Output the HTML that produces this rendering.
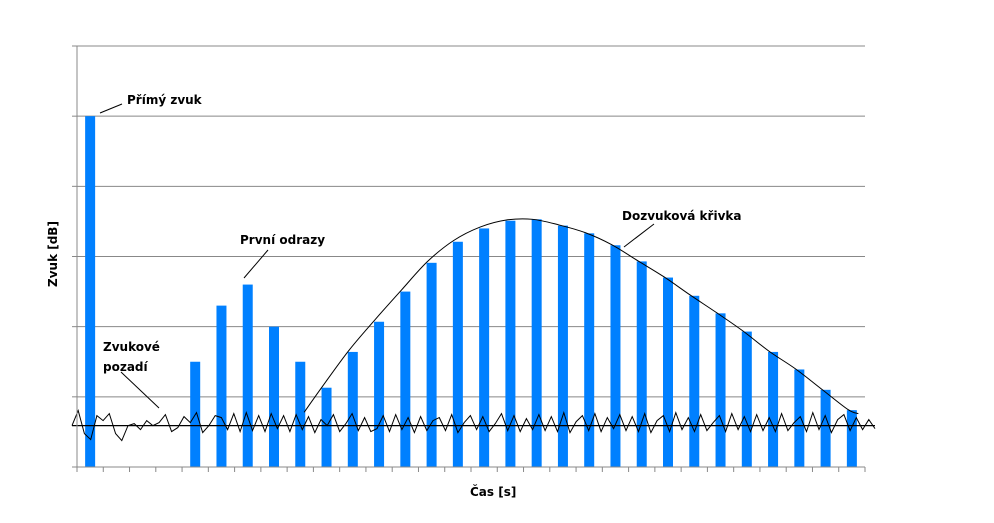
<!DOCTYPE html>
<html><head><meta charset="utf-8"><style>
body{margin:0;background:#fff;}
svg{display:block;}
text{font-family:"DejaVu Sans","Liberation Sans",sans-serif;font-weight:bold;font-size:12px;fill:#000;}
</style></head><body>
<svg id="chart" width="994" height="523">
<g id="grid"></g><g id="bars"></g><g id="lines"></g><g id="axes"></g>
<text x="470" y="496">Čas [s]</text>
<text transform="translate(57,287) rotate(-90)">Zvuk [dB]</text>
<text x="127" y="104">Přímý zvuk</text>
<line x1="100" y1="113" x2="122" y2="104" stroke="#000"/>
<text x="240" y="244">První odrazy</text>
<line x1="244" y1="278" x2="268" y2="250" stroke="#000"/>
<text x="103" y="351">Zvukové</text>
<text x="103" y="371">pozadí</text>
<line x1="121" y1="372" x2="159" y2="408" stroke="#000"/>
<text x="622" y="220">Dozvuková křivka</text>
<line x1="624" y1="247" x2="654" y2="224" stroke="#000"/>
</svg>
<script>
const categories = Array.from({length:30},(_,i)=>i+1);
const barValues = [50,0,0,0,15,23,26,20,15,11.3,16.4,20.7,25,29.1,32.1,34,35.1,35.3,34.4,33.3,31.6,29.3,27,24.4,21.9,19.3,16.4,13.9,11,8.1];
const curveCats = [8.3,9,10,11,12,13,14,15,16,17,18,19,20,21,22,23,24,25,26,27,28,29,29.4];
const curveValues = [7.8,11.5,16.6,21,25.2,29.3,32.3,34.2,35.2,35.3,34.5,33.4,31.7,29.4,27.1,24.5,22,19.4,16.5,14,11.1,8.2,7.6];
const noiseBase = 5.9;
const noiseValues = [0,1.5,-0.8,-1.4,1,0.5,1.2,-0.8,-1.5,0,0.2,-0.4,0.5,0,0.3,1.1,-0.6,-0.2,0.9,0.3,1.3,-0.7,0,1,0.8,-0.4,1.2,-0.6,1.3,-0.5,1,-0.6,1.2,-0.3,1,-0.6,1.1,-0.4,0.9,-0.7,0.6,0,1.1,-0.6,0.2,1.2,-0.5,0.8,-0.6,-0.3,1,-0.6,1.1,-0.4,0.8,-0.7,0.9,-0.5,0.5,0.8,-0.5,1.1,-0.7,0.3,1,-0.4,0.9,-0.6,0.2,1.2,-0.5,1,-0.6,0.7,-0.4,1.1,-0.5,0.9,-0.6,1.3,-0.7,0.4,1,-0.5,1.2,-0.6,0.8,-0.3,1.1,-0.5,0.9,-0.6,1.2,-0.7,0.5,1,-0.6,1.3,-0.4,0.8,-0.6,1.1,-0.5,0.3,1,-0.6,1.2,-0.4,0.9,-0.6,1.1,-0.5,0.8,-0.6,1.2,-0.5,0.3,0.9,-0.6,1.3,-0.4,1,-0.7,0.6,1.1,-0.5,0.8,-0.4,0.6,-0.3];
const yTicks = [0,10,20,30,40,50,60];

const X0=77,X1=865,Y0=467,Y1=46,YMAX=60;
const NS="http://www.w3.org/2000/svg";
const slot=(X1-X0)/categories.length;
const xC=i=>X0+slot*(i+0.5);
const y=v=>Y0-(v/YMAX)*(Y0-Y1);
function mk(tag,attrs,parent){const e=document.createElementNS(NS,tag);for(const k in attrs)e.setAttribute(k,attrs[k]);document.getElementById(parent).appendChild(e);return e;}

yTicks.forEach(t=>{
  if(t>0){const g=mk('line',{x1:X0,x2:X1,y1:y(t),y2:y(t),stroke:'#888'},'grid');
  
  }
  const tk=mk('line',{x1:X0-5,x2:X0,y1:y(t),y2:y(t),stroke:'#888'},'axes');
  
  
});
const ya=mk('line',{x1:X0,x2:X0,y1:Y1,y2:Y0,stroke:'#888'},'axes');


const xa=mk('line',{x1:X0,x2:X1,y1:Y0,y2:Y0,stroke:'#888'},'axes');


for(let i=0;i<=categories.length;i++){
  const tk=mk('line',{x1:X0+slot*i,x2:X0+slot*i,y1:Y0,y2:Y0+5,stroke:'#888'},'axes');
  
  
}
barValues.forEach((v,i)=>{
  if(v<=0)return;
  const b=mk('rect',{x:xC(i)-5,y:y(v),width:10,height:Y0-y(v),fill:'#0080ff'},'bars');
  
  
});
// noise
const nx0=72,nx1=875;
let d='';
noiseValues.forEach((v,i)=>{const px=nx0+(nx1-nx0)*i/(noiseValues.length-1);const py=y(noiseBase)-v*10;d+=(i?'L':'M')+px.toFixed(1)+' '+py.toFixed(1);});
const nl=mk('path',{d:d,fill:'none',stroke:'#000','stroke-width':1},'lines');


const bl=mk('line',{x1:nx0,x2:nx1,y1:y(noiseBase),y2:y(noiseBase),stroke:'#000','stroke-width':1.3},'lines');


// reverb curve (catmull-rom) through bar top-left corners
const pts=curveCats.map((c,i)=>[X0+slot*(c+0.5)-4,y(curveValues[i])]);
let cd='M'+pts[0][0]+' '+pts[0][1];
for(let i=0;i<pts.length-1;i++){const p0=pts[Math.max(0,i-1)],p1=pts[i],p2=pts[i+1],p3=pts[Math.min(pts.length-1,i+2)];
cd+=`C${p1[0]+(p2[0]-p0[0])/6} ${p1[1]+(p2[1]-p0[1])/6} ${p2[0]-(p3[0]-p1[0])/6} ${p2[1]-(p3[1]-p1[1])/6} ${p2[0]} ${p2[1]}`;}
const cl=mk('path',{d:cd,fill:'none',stroke:'#000','stroke-width':1},'lines');


</script>
</body></html>
